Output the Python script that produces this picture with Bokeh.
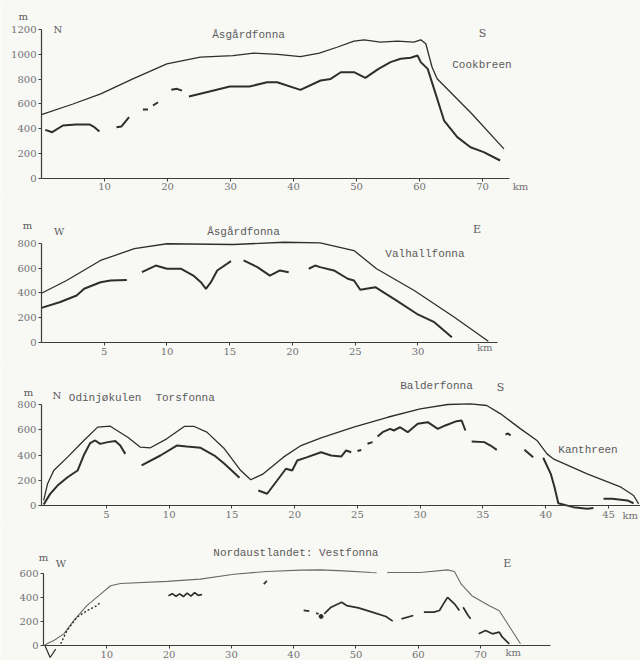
from bokeh.plotting import figure
from bokeh.layouts import column
from bokeh.models import Range1d, FixedTicker, Label
from bokeh.embed import file_html
from bokeh.resources import INLINE

# ---------------- data (km along profile, m a.s.l.) ----------------
# Panel 1: Åsgårdfonna N-S to Cookbreen
cook_surf_km = [0, 5, 9.4, 14.5, 19.9, 25.2, 30.4, 33.7, 37.5, 41.1, 44.1, 46.9, 49.6, 51.2, 53.8, 56.5, 59.1, 60.2, 61.0, 62.0, 62.8, 68.3, 73.4]
cook_surf_m = [515, 600, 682, 803, 923, 977, 990, 1009, 1000, 982, 1009, 1057, 1106, 1117, 1098, 1106, 1098, 1117, 1085, 896, 803, 521, 239]
cook_bed_km = [
    [0.6, 1.7, 3.4, 5.5, 7.6, 8.4, 9.2],
    [11.9, 12.7, 13.9],
    [16.1, 16.9],
    [17.7, 18.5],
    [20.6, 21.5, 22.3],
    [23.4, 26.2, 29.9, 33.0, 35.8, 37.4, 41.1, 44.3, 45.9, 47.5, 49.6, 51.4, 53.5, 55.4, 57.0, 58.6, 59.7, 60.2, 61.3, 62.4, 63.9, 66.0, 68.1, 70.2, 72.8],
]
cook_bed_m = [
    [392, 373, 427, 435, 435, 413, 378],
    [413, 419, 494],
    [556, 556],
    [588, 614],
    [714, 722, 708],
    [660, 695, 741, 741, 775, 775, 714, 789, 802, 856, 856, 811, 883, 937, 964, 972, 990, 937, 883, 708, 467, 333, 252, 212, 145],
]
cook_xticks = [10, 20, 30, 40, 50, 60, 70]
cook_yticks = [0, 200, 400, 600, 800, 1000, 1200]

# Panel 2: Åsgårdfonna W-E to Valhallfonna
val_surf_km = [0, 2.0, 4.7, 7.4, 10.0, 15.3, 19.3, 22.2, 24.9, 26.7, 29.7, 32.9, 35.6]
val_surf_m = [398, 501, 663, 758, 798, 792, 810, 805, 743, 596, 420, 204, 10]
val_bed_km = [
    [0, 1.5, 2.8, 3.4, 4.7, 5.5, 6.8],
    [8.0, 9.1, 10.0, 11.1, 12.1, 12.7, 13.1, 13.5, 14.0, 15.1],
    [16.1, 17.2, 18.2, 19.0, 19.7],
    [21.3, 21.8, 22.2, 23.3, 24.4, 24.9, 25.4, 26.6, 28.3, 29.9, 31.3, 32.7],
]
val_bed_m = [
    [280, 327, 380, 434, 487, 501, 506],
    [568, 622, 596, 596, 541, 487, 434, 487, 582, 657],
    [663, 609, 541, 582, 568],
    [596, 622, 609, 582, 515, 501, 426, 447, 339, 232, 164, 43],
]
val_xticks = [5, 10, 15, 20, 25, 30]
val_yticks = [0, 200, 400, 600, 800]

# Panel 3: Odinjøkulen - Torsfonna - Balderfonna - Kanthreen
bal_surf_km = [0, 0.3, 0.8, 1.9, 3.2, 4.3, 5.3, 6.7, 7.7, 8.5, 9.8, 11.2, 12.0, 13.0, 14.4, 15.7, 16.5, 17.5, 19.1, 20.5, 22.1, 24.7, 27.4, 30.0, 32.2, 34.0, 35.3, 36.4, 38.0, 39.3, 40.1, 40.6, 43.3, 46.0, 47.0, 47.4]
bal_surf_m = [40, 170, 277, 383, 515, 621, 628, 541, 462, 457, 528, 626, 626, 581, 449, 277, 204, 251, 383, 475, 536, 620, 699, 766, 800, 805, 792, 726, 607, 515, 409, 370, 251, 145, 79, 13]
bal_bed_km = [
    [0, 0.5, 1.1, 1.9, 2.7, 3.2, 3.7, 4.1, 4.5, 5.1, 5.7, 6.1, 6.5],
    [7.8, 9.3, 10.6, 11.4, 12.5, 13.6, 14.4, 15.6],
    [17.1, 17.8, 18.6, 19.3, 19.8, 20.2, 21.0, 22.1, 22.9, 23.7, 24.1, 24.5],
    [25.0, 25.3],
    [25.8, 26.2],
    [26.6, 27.0, 27.6, 27.9, 28.4, 29.0, 29.8, 30.6, 31.4, 32.0, 32.9, 33.3, 33.6],
    [34.1, 35.1, 35.6, 36.1],
    [36.8, 37.0, 37.2],
    [38.3, 39.0],
    [39.8, 40.4, 40.7, 41.0, 42.2, 43.3, 43.8],
    [44.6, 45.3, 46.5, 47.0],
]
bal_bed_m = [
    [8, 90, 158, 224, 277, 400, 494, 515, 488, 502, 510, 475, 409],
    [317, 396, 475, 467, 457, 396, 330, 219],
    [119, 93, 198, 291, 277, 356, 383, 422, 396, 388, 436, 422],
    [432, 440],
    [489, 502],
    [547, 581, 607, 594, 620, 581, 647, 660, 607, 634, 668, 673, 594],
    [507, 502, 475, 441],
    [562, 570, 555],
    [441, 383],
    [378, 251, 145, 18, -13, -26, -20],
    [53, 53, 40, 18],
]
bal_xticks = [5, 10, 15, 20, 25, 30, 35, 40, 45]
bal_yticks = [0, 200, 400, 600, 800]

# Panel 4: Nordaustlandet, Vestfonna W-E
ves_surf_km = [
    [0, 0.4, 1.5, 3.1, 4.7, 6.8, 9.0, 10.6, 12.2, 19.7, 25.0, 30.4, 35.7, 41.1, 44.3, 48.0, 52.5, 53.3],
    [55.0, 55.3, 60.3, 64.7, 65.8, 66.9, 68.6, 71.4, 73.0, 74.7, 76.4],
]
ves_surf_m = [
    [0, 14, 41, 97, 207, 332, 428, 498, 517, 534, 553, 594, 617, 628, 630, 622, 608, 606],
    [606, 608, 608, 630, 617, 511, 415, 332, 290, 152, 14],
]
ves_dot_bed_km = [2.6, 3.6, 5.2, 6.8, 8.4, 9.0]
ves_dot_bed_m = [14, 124, 235, 290, 332, 359]
ves_notch_km = [0.1, 0.9, 1.8]
ves_notch_m = [-5, -100, -30]
ves_bed_km = [
    [19.9, 20.5, 21.1, 21.7, 22.3, 22.9, 23.5, 24.1, 24.7, 25.3],
    [35.2, 35.7],
    [41.6, 42.5],
    [43.6, 44.0],
    [44.9, 46.0, 47.7, 48.5, 50.4, 52.6, 54.8, 55.9],
    [57.3, 59.2],
    [60.9, 62.5, 63.4, 64.2, 64.7, 65.8, 66.6],
    [67.2, 68.0, 68.4],
    [69.7, 70.8, 71.9, 73.0, 73.5, 74.6],
]
ves_bed_m = [
    [415, 432, 410, 430, 408, 436, 412, 440, 418, 425],
    [511, 539],
    [292, 286],
    [270, 264],
    [264, 319, 361, 333, 314, 278, 242, 203],
    [222, 250],
    [278, 278, 292, 361, 401, 347, 292],
    [319, 250, 222],
    [97, 125, 97, 111, 69, 14],
]
ves_point_km = [44.4]
ves_point_m = [242]
ves_xticks = [10, 20, 30, 40, 50, 60, 70]
ves_yticks = [0, 200, 400, 600]

# ---------------- styling ----------------
BG = "#f8f8f5"
INK = "#2e2e2e"
AXIS = "#3c3c3c"
TXT = "#5a5a5a"
MONO = "Liberation Mono"
SERIF = "DejaVu Serif"


def panel(height, x0, x1, y0, y1, ax_x, xb, yb, xticks, yticks):
    p = figure(width=640, height=height,
               x_range=Range1d(x0, x1), y_range=Range1d(y0, y1),
               output_backend="svg", toolbar_location=None,
               min_border=0, min_border_left=0, min_border_right=0,
               min_border_top=0, min_border_bottom=0,
               background_fill_color=BG, border_fill_color=BG,
               outline_line_color=None)
    p.xgrid.visible = False
    p.ygrid.visible = False
    p.xaxis.ticker = FixedTicker(ticks=xticks)
    p.yaxis.ticker = FixedTicker(ticks=yticks)
    p.xaxis.fixed_location = 0
    p.yaxis.fixed_location = ax_x
    p.xaxis.bounds = (ax_x, xb)
    p.yaxis.bounds = (0, yb)
    for ax in (p.xaxis, p.yaxis):
        ax.axis_line_color = AXIS
        ax.axis_line_width = 1.2
        ax.major_tick_line_color = AXIS
        ax.minor_tick_line_color = None
        ax.major_tick_out = 3
        ax.major_tick_in = 0
        ax.major_label_text_font = SERIF
        ax.major_label_text_font_size = "10px"
        ax.major_label_text_color = "#727272"
        ax.major_label_standoff = 2
    return p


def lab(p, x, y, text, size="11px", font=MONO, align="left", color=TXT):
    p.add_layout(Label(x=x, y=y, text=text, text_font=font, text_font_size=size,
                       text_color=color, text_baseline="middle", text_align=align))


# Panel 1
p1 = panel(198, -6.508, 95.08, -161.07, 1433.5, 0.0, 74.3, 1200, cook_xticks, cook_yticks)
p1.line(cook_surf_km, cook_surf_m, line_color=INK, line_width=1.3)
p1.multi_line(cook_bed_km, cook_bed_m, line_color=INK, line_width=2)
lab(p1, -2.9, 1305, "m", size="10px", font=SERIF, align="center")
lab(p1, 1.9, 1200, "N", size="10px", font=SERIF)
lab(p1, 27.1, 1152, "Åsgårdfonna")
lab(p1, 70.0, 1168, "S", align="center", font=SERIF)
lab(p1, 65.2, 918, "Cookbreen")
lab(p1, 74.8, -64, "km", size="10px", font=SERIF, color="#727272")

# Panel 2
p2 = panel(162, -3.267, 47.73, -145.45, 1163.6, 0.0, 36.3, 800, val_xticks, val_yticks)
p2.line(val_surf_km, val_surf_m, line_color=INK, line_width=1.3)
p2.multi_line(val_bed_km, val_bed_m, line_color=INK, line_width=2)
lab(p2, -1.12, 945, "m", size="10px", font=SERIF, align="center")
lab(p2, 1.0, 897, "W", size="10px", font=SERIF)
lab(p2, 13.2, 889, "Åsgårdfonna")
lab(p2, 34.7, 913, "E", align="center", font=SERIF)
lab(p2, 27.4, 719, "Valhallfonna")
lab(p2, 34.7, -40, "km", size="10px", font=SERIF, color="#727272")

# Panel 3
p3 = panel(166, -3.442, 47.55, -166.3, 1148.5, -0.18, 47.55, 800, bal_xticks, bal_yticks)
p3.line(bal_surf_km, bal_surf_m, line_color=INK, line_width=1.3)
p3.multi_line(bal_bed_km, bal_bed_m, line_color=INK, line_width=2)
lab(p3, -1.21, 895, "m", size="10px", font=SERIF, align="center")
lab(p3, 0.7, 871, "N", size="10px", font=SERIF)
lab(p3, 2.0, 855, "Odinjøkulen")
lab(p3, 8.9, 855, "Torsfonna")
lab(p3, 28.4, 943, "Balderfonna")
lab(p3, 36.4, 935, "S", align="center", font=SERIF)
lab(p3, 41.0, 436, "Kanthreen")
lab(p3, 47.35, -79, "km", size="10px", font=SERIF, color="#727272", align="right")

# Panel 4
p4 = panel(134, -7.063, 95.67, -125.0, 991.7, -0.16, 81.2, 600, ves_xticks, ves_yticks)
p4.multi_line(ves_surf_km, ves_surf_m, line_color="#6a6a6a", line_width=1.1)
p4.line(ves_dot_bed_km, ves_dot_bed_m, line_color=INK, line_width=1.4, line_dash="2 2")
p4.line(ves_notch_km, ves_notch_m, line_color=INK, line_width=1.2)
p4.multi_line(ves_bed_km, ves_bed_m, line_color=INK, line_width=1.7)
p4.scatter(ves_point_km, ves_point_m, size=4, color=INK)
lab(p4, -0.16, 733, "m", size="10px", font=SERIF, align="center")
lab(p4, 1.8, 683, "W", size="10px", font=SERIF)
lab(p4, 27.1, 767, "Nordaustlandet: Vestfonna")
lab(p4, 74.3, 683, "E", align="center", font=SERIF)
lab(p4, 74.0, -58, "km", size="10px", font=SERIF, color="#727272")

layout = column(p1, p2, p3, p4, spacing=0)
open("out.html", "w").write(file_html(layout, INLINE))
